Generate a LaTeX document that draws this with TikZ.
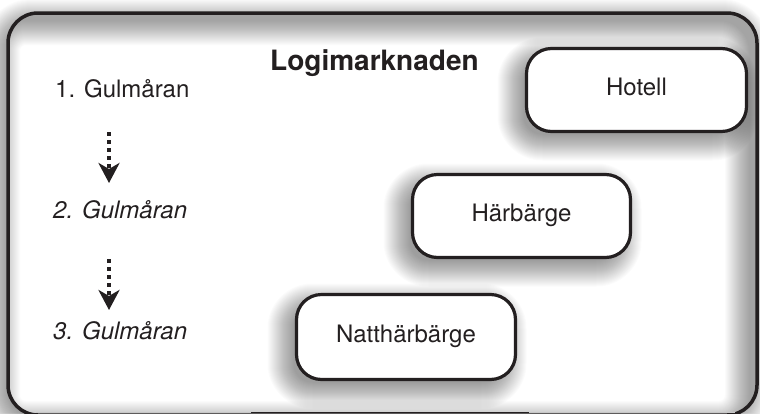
\documentclass[tikz,border=0pt]{standalone}
\usepackage{fontspec}
\setmainfont{TeX Gyre Heros}
\usetikzlibrary{arrows.meta}
\definecolor{ink}{HTML}{231F20}
\tikzset{
  boxnode/.style={draw=ink, line width=3.2pt, fill=white, rounded corners=25pt,
    inner sep=0pt, text height=17pt, text depth=7pt,
    font=\fontsize{24}{28}\selectfont, text=ink},
  lbl/.style={inner sep=0pt, anchor=base west, font=\fontsize{24}{28}\selectfont, text=ink},
  dotarrow/.style={draw=ink, line width=4pt, dash pattern=on 4pt off 4pt,
    -{Stealth[length=20pt,width=21pt,inset=6pt]}},
}
% soft shadow: x1 y1 x2 y2 (already offset), base radius
\newcommand\softshade[5]{%
  \foreach \k in {-6,...,20}{%
    \pgfmathsetmacro\rc{max(#5+\k,2)}%
    \fill[black,opacity=0.015,rounded corners=\rc pt] (#1-\k,#2-\k) rectangle (#3+\k,#4+\k);
  }}
\begin{document}
\begin{tikzpicture}[x=1pt,y=-1pt]
\useasboundingbox (0,0) rectangle (760,413);
\fill[white] (0,0) rectangle (760,413);
% outer shadow of frame
\softshade{2}{19}{751}{421}{30}
% frame fill
\fill[white, rounded corners=30pt] (8,13) rectangle (757,415);
% inner shadow of frame
\begin{scope}
  \clip[rounded corners=30pt] (8,13) rectangle (757,415);
  \foreach \k in {0,...,24}{%
    \pgfmathsetmacro\rc{max(30-\k,2)}%
    \fill[black,opacity=0.016,even odd rule] (-20,-20) rectangle (800,460)
      [rounded corners=\rc pt] (-4+\k,21+\k) rectangle (749-\k,425-\k);
  }
\end{scope}
% box shadows
\softshade{517.5}{57.5}{737.5}{140.5}{25}
\softshade{403.5}{183.5}{621.5}{266.5}{25}
\softshade{287.5}{303.5}{506.5}{388.5}{25}
% boxes
\node[boxnode, minimum width=220pt, minimum height=83pt] (hotell) at (636.5,90) {Hotell};
\node[boxnode, minimum width=218pt, minimum height=83pt] (harb) at (521.5,216) {Härbärge};
\node[boxnode, minimum width=219pt, minimum height=85pt] (natt) at (406,337) {Natthärbärge};
% title and labels
\node[lbl, font=\bfseries\fontsize{28}{32}\selectfont] (title) at (270,70) {Logimarknaden};
\node[lbl] (g1) at (55,97) {1. Gulmåran};
\node[lbl, font=\itshape\fontsize{24}{28}\selectfont] (g2) at (53,218) {2. Gulmåran};
\node[lbl, font=\itshape\fontsize{24}{28}\selectfont] (g3) at (53,339) {3. Gulmåran};
% arrows
\draw[dotarrow] ([shift={(54,35)}]g1.base west) -- ([shift={(56,-35)}]g2.base west);
\draw[dotarrow] ([shift={(56,41)}]g2.base west) -- ([shift={(56,-29)}]g3.base west);
% frame stroke
\draw[ink, line width=3.5pt, rounded corners=30pt] (8,13) rectangle (757,415);
% bottom edge remnants
\draw[black!22, line width=1.5pt] (36,412.5) -- (735,412.5);
\draw[ink, line width=1.5pt] (251,412.5) -- (529,412.5);
\end{tikzpicture}
\end{document}
